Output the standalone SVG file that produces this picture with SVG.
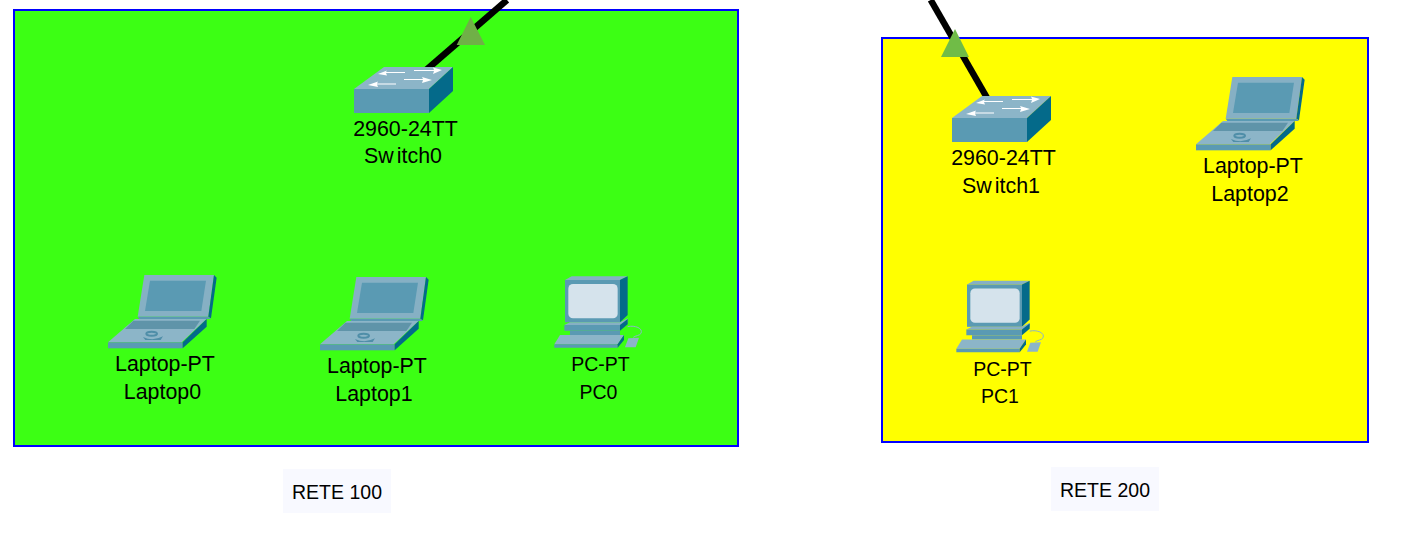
<svg xmlns="http://www.w3.org/2000/svg" width="1423" height="533" viewBox="0 0 1423 533">
<style>
text{font-family:"Liberation Sans",Arial,sans-serif;font-size:21.400px;fill:#000;text-anchor:middle}
.pct{font-size:19.500px}
.net{stroke:#0000ff;stroke-width:2}
.tag{fill:#f8f9ff}
.wire{stroke:#000;stroke-width:6.500;fill:none}
.tri{fill:#70b047}
.lite{fill:#8cb5c8}.mid{fill:#5a9ab3}.dark{fill:#046a8a}
</style>
<defs>
<g id="sw">
<path class="lite" d="M0 22L30 0H99L75 22Z"/>
<rect class="mid" y="22" width="75" height="24"/>
<path class="dark" d="M75 22L99 0V24L75 46Z"/>
<path d="M24 7L33 3.500L32 5H51V6H32L33 8.500ZM88 3L79 .5L80 3H60V4H80L79 7ZM14 18L24 14.500L23 16.500H42V17.500H23L24 20ZM78 13L68 10L69 12H50V13H69L68 16Z" fill="#fff"/>
</g>
<g id="lap" transform="scale(.3333)">
<path fill="#86b0c4" d="M109 0H318L301 125H89Z"/>
<path class="dark" d="M318 0L326 8L309 130L301 125Z"/>
<path class="mid" d="M126 17H294L280 108H111Z"/>
<path class="mid" d="M89 125H301L309 132H94Z"/>
<path class="lite" d="M81 132H296L221 202H0Z"/>
<path fill="#5f94a9" d="M76 137H276L259 162H51Z"/>
<rect class="mid" y="202" width="224" height="18"/>
<path class="dark" d="M224 202L296 132V155L224 220Z"/>
<ellipse cx="131" cy="176" rx="16" ry="6" fill="none" stroke="#4f8ea8" stroke-width="6"/>
<path fill="#4f8ea8" d="M105 186Q135 200 165 184L158 195H112Z"/>
</g>
<g id="pc" transform="scale(.3333)">
<path fill="#86b0c4" d="M60 45L80 34H248L225 45Z"/>
<rect class="mid" x="60" y="45" width="165" height="127"/>
<path class="dark" d="M225 45L248 34V150L225 172Z"/>
<rect x="70" y="57" width="148" height="103" rx="14" fill="#d5e3ec"/>
<path fill="#86b0c4" d="M75 172H225L248 160V172L225 180H58Z"/>
<path class="mid" d="M58 180H225V197H58Z"/>
<path class="dark" d="M225 180L248 162V178L225 197Z"/>
<path class="mid" d="M75 197H225V210H75Z"/>
<path class="lite" d="M45 210H237L218 238H28Z"/>
<path class="mid" d="M28 238H218V248H28Z"/>
<path class="dark" d="M218 238L237 210V225L218 248Z"/>
<path class="lite" d="M240 247L250 220L282 218L272 247Z"/>
<path fill="none" stroke="#8cb5c8" stroke-width="3" d="M248 185C270 180 295 190 288 205C285 212 270 212 265 217"/>
</g>
</defs>
<rect id="net100" class="net" x="14" y="10" width="724" height="436" fill="#3cff14"/>
<rect id="net200" class="net" x="882" y="38" width="486" height="404" fill="#ffff00"/>
<g id="connectors">
<path class="wire" d="M507 0L425 71"/>
<path class="wire" d="M930.700 0L990 103"/>
<path class="tri" d="M470.700 17L456.700 45H485Z"/>
<path class="tri" style="fill:#70bc47" d="M955 29L941 57H969Z"/>
</g>
<g id="switch0"><use href="#sw" x="354" y="67"/><text x="405.500" y="136">2960-24TT</text><text x="403" y="163">Sw<tspan dx="3">itch0</tspan></text></g>
<g id="switch1"><use href="#sw" x="952" y="96"/><text x="1003.500" y="165">2960-24TT</text><text x="1001" y="192.500">Sw<tspan dx="3">itch1</tspan></text></g>
<g id="laptop0"><g transform="translate(108 275)"><use href="#lap"/></g><text x="165" y="371">Laptop-PT</text><text x="162.500" y="399">Laptop0</text></g>
<g id="laptop1"><g transform="translate(320 277)"><use href="#lap"/></g><text x="377" y="373">Laptop-PT</text><text x="374" y="401">Laptop1</text></g>
<g id="laptop2"><g transform="translate(1196 77)"><use href="#lap"/></g><text x="1253" y="173">Laptop-PT</text><text x="1250" y="201">Laptop2</text></g>
<g id="pc0"><g transform="translate(545 265)"><use href="#pc"/></g><text class="pct" x="600.500" y="371">PC-PT</text><text class="pct" x="598.500" y="399">PC0</text></g>
<g id="pc1"><g transform="translate(947 269.500)"><use href="#pc"/></g><text class="pct" x="1002.500" y="375.500">PC-PT</text><text class="pct" x="1000" y="403">PC1</text></g>
<g id="rete100"><rect class="tag" x="283" y="469" width="108" height="44"/><text x="337" y="498.500" style="font-size:19.500px">RETE 100</text></g>
<g id="rete200"><rect class="tag" x="1051" y="467" width="108" height="44"/><text x="1105" y="496.500" style="font-size:19.500px">RETE 200</text></g>
</svg>
